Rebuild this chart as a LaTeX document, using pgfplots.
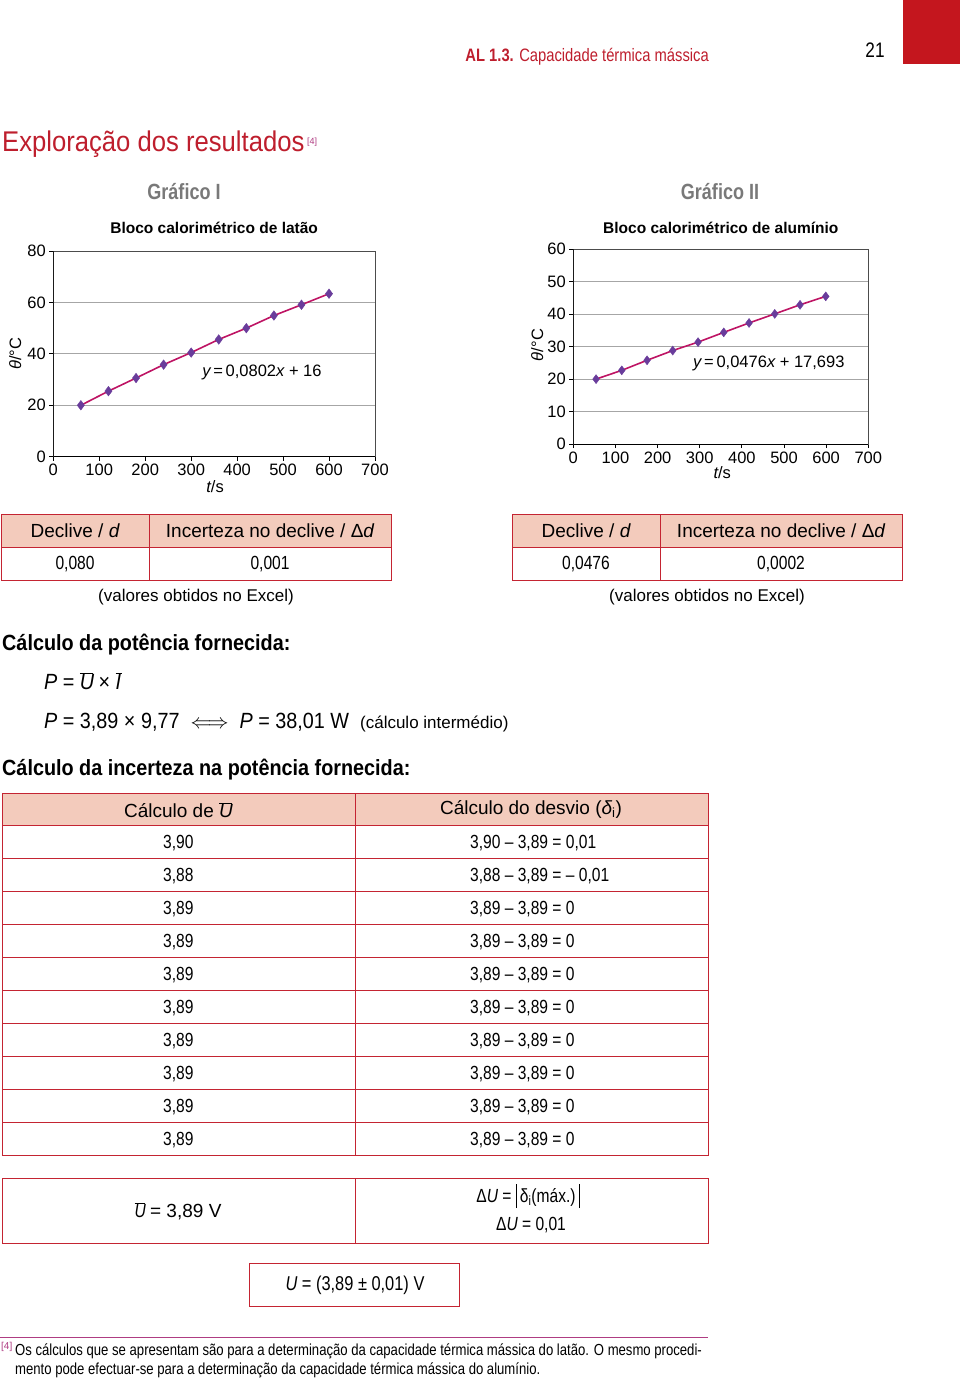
\documentclass[border=0pt]{standalone}
\usepackage{pgfplots}
\pgfplotsset{compat=1.18}
\usepackage{fontspec}
\setmainfont{Liberation Sans}
\newfontfamily\cond[FakeStretch=0.82]{Liberation Sans}
\newfontfamily\condw[FakeStretch=0.9]{Liberation Sans}
\newcommand{\fs}[1]{\fontsize{#1}{#1}\selectfont}
\definecolor{pagered}{RGB}{196,22,30}
\definecolor{titlered}{RGB}{190,30,45}
\definecolor{tabred}{RGB}{196,36,50}
\definecolor{hdrfill}{RGB}{243,203,188}
\definecolor{linecol}{RGB}{190,20,100}
\definecolor{markcol}{RGB}{105,60,155}
\definecolor{footmag}{RGB}{175,60,130}
\newcommand{\ub}{\ensuremath{\overline{\hbox{\itshape U\kern-0.05em}}}}
\newcommand{\ib}{\ensuremath{\overline{\hbox{\itshape I\kern0.05em}}}}
\newcommand{\absbar}{\raisebox{-6pt}{\rule{0.9pt}{24pt}}}
\newcommand{\trow}[3]{%
  \node[anchor=west, font=\cond\fs{19}, inner sep=0] at (163,#1+2) {#2};
  \node[anchor=west, font=\cond\fs{19}, inner sep=0] at (470,#1+2) {#3};}
\begin{document}
\begin{tikzpicture}
\path[use as bounding box] (0pt,0pt) rectangle (960pt,-1381pt);
\fill[pagered] (903pt,0pt) rectangle (960pt,-64pt);

% ---------------- Graph I ----------------
\begin{axis}[
  at={(53.3pt,-456.7pt)}, anchor=south west,
  scale only axis, width=321.7pt, height=205.7pt,
  xmin=0, xmax=700, ymin=0, ymax=80,
  xtick={0,100,...,700}, ytick={0,20,...,80},
  ymajorgrids, grid style={gray!70, line width=0.9pt},
  axis line style={gray!60!black, line width=0.9pt},
  tick align=outside, major tick length=4pt,
  xtick pos=bottom, ytick pos=left,
  tick style={black, line width=0.8pt},
  tick label style={font=\fs{16.5}},
  /pgf/number format/assume math mode=true,
  xlabel={{\itshape t}/s}, ylabel={{\itshape θ}/°C},
  label style={font=\fs{16.5}},
  xlabel style={at={(axis description cs:0.503,-0.146)}, anchor=center},
  ylabel style={at={(axis description cs:-0.118,0.5)}, anchor=center},
  title={Bloco calorimétrico de latão},
  title style={font=\bfseries\fs{15.5}, at={(axis description cs:0.5,1)}, anchor=center, yshift=17pt},
]
\addplot[line width=1.6pt, color=linecol, mark=diamond*, mark size=4.8pt,
  mark options={draw=markcol, fill=markcol, line width=0.4pt}] coordinates {
  (60,20.0) (120,25.5) (180,30.6) (240,35.8) (300,40.5)
  (360,45.6) (420,50.0) (480,54.9) (540,59.1) (600,63.4)};
\draw[black, line width=1pt] (rel axis cs:0,1) -- (rel axis cs:0,0) -- (rel axis cs:1,0);
\node[font=\fs{16.5}] at (axis cs:454,32.6) {{\itshape y}\,=\,0,0802{\itshape x} + 16};
\end{axis}

% ---------------- Graph II ----------------
\begin{axis}[
  at={(573.3pt,-444pt)}, anchor=south west,
  scale only axis, width=295pt, height=194.7pt,
  xmin=0, xmax=700, ymin=0, ymax=60,
  xtick={0,100,...,700}, ytick={0,10,...,60},
  ymajorgrids, grid style={gray!70, line width=0.9pt},
  axis line style={gray!60!black, line width=0.9pt},
  tick align=outside, major tick length=4pt,
  xtick pos=bottom, ytick pos=left,
  tick style={black, line width=0.8pt},
  tick label style={font=\fs{16.5}},
  /pgf/number format/assume math mode=true,
  xlabel={{\itshape t}/s}, ylabel={{\itshape θ}/°C},
  label style={font=\fs{16.5}},
  xlabel style={at={(axis description cs:0.505,-0.149)}, anchor=center},
  ylabel style={at={(axis description cs:-0.122,0.508)}, anchor=center},
  title={Bloco calorimétrico de alumínio},
  title style={font=\bfseries\fs{15.5}, at={(axis description cs:0.5,1)}, anchor=center, yshift=15pt},
]
\addplot[line width=1.6pt, color=linecol, mark=diamond*, mark size=4.5pt,
  mark options={draw=markcol, fill=markcol, line width=0.4pt}] coordinates {
  (54,20.0) (115,22.7) (175,25.8) (236,28.8) (296,31.4)
  (357,34.4) (417,37.3) (478,40.1) (538,42.9) (599,45.5)};
\draw[black, line width=1pt] (rel axis cs:0,1) -- (rel axis cs:0,0) -- (rel axis cs:1,0);
\node[font=\fs{16.5}] at (axis cs:464,24.8) {{\itshape y}\,=\,0,0476{\itshape x} + 17,693};
\end{axis}

\begin{scope}[x=1pt, y=-1pt]
% header
\node[anchor=east, text=titlered, font=\cond\fs{18}, inner sep=0] at (709,57) {{\bfseries AL 1.3.} Capacidade térmica mássica};
\node[font=\cond\fs{21}, inner sep=0] at (875,50) {21};
\node[anchor=west, text=titlered, font=\condw\fs{28.5}, inner sep=0] at (2,144) {Exploração dos resultados};
\node[anchor=west, text=footmag, font=\fs{9}, inner sep=0] at (307,142) {[4]};
\node[font=\cond\bfseries\fs{22}, text=gray!95!black, inner sep=0] at (184,192) {Gráfico I};
\node[font=\cond\bfseries\fs{22}, text=gray!95!black, inner sep=0] at (720,192) {Gráfico II};

% small tables
\fill[hdrfill] (1,514) rectangle (391,547);
\fill[hdrfill] (512,514) rectangle (902,547);
\begin{scope}[draw=tabred, line width=1pt]
\draw (1,514) rectangle (391,580); \draw (1,547) -- (391,547); \draw (149,514) -- (149,580);
\draw (512,514) rectangle (902,580); \draw (512,547) -- (902,547); \draw (660,514) -- (660,580);
\end{scope}
\begin{scope}[every node/.style={inner sep=0}]
\node[font=\fs{19}] at (75,531) {Declive / {\itshape d}};
\node[font=\fs{19}] at (270,531) {Incerteza no declive / Δ{\itshape d}};
\node[font=\cond\fs{19}] at (75,564) {0,080};
\node[font=\cond\fs{19}] at (270,564) {0,001};
\node[font=\fs{17}] at (196,597) {(valores obtidos no Excel)};
\node[font=\fs{19}] at (586,531) {Declive / {\itshape d}};
\node[font=\fs{19}] at (781,531) {Incerteza no declive / Δ{\itshape d}};
\node[font=\cond\fs{19}] at (586,564) {0,0476};
\node[font=\cond\fs{19}] at (781,564) {0,0002};
\node[font=\fs{17}] at (707,597) {(valores obtidos no Excel)};

% power
\node[anchor=west, font=\condw\bfseries\fs{22}] at (2,645) {Cálculo da potência fornecida:};
\node[anchor=west, font=\condw\fs{22}] at (44,681) {{\itshape P} = \ub\ × \ib};
\node[anchor=west, font=\condw\fs{22}] at (44,723) {{\itshape P} = 3,89 × 9,77\ \ $\Longleftrightarrow$\ \ {\itshape P} = 38,01 W\ \ {\rmfamily\fs{17}(cálculo intermédio)}};
\node[anchor=west, font=\condw\bfseries\fs{22}] at (2,770) {Cálculo da incerteza na potência fornecida:};
\end{scope}

% big table
\fill[hdrfill] (2,793) rectangle (708,825);
\begin{scope}[draw=tabred, line width=1pt]
\draw (2,793) rectangle (708,1155);
\foreach \yy in {825,858,891,924,957,990,1023,1056,1089,1122} {\draw (2,\yy) -- (708,\yy);}
\draw (355,793) -- (355,1155);
\draw (2,1178) rectangle (708,1243); \draw (355,1178) -- (355,1243);
\draw (249,1263) rectangle (459,1306);
\end{scope}
\node[font=\fs{19}, inner sep=0] at (178,810) {Cálculo de \ub};
\node[font=\fs{19}, inner sep=0] at (531,809) {Cálculo do desvio ({\itshape δ}\textsubscript{i})};
\trow{841}{3,90}{3,90 – 3,89 = 0,01}
\trow{874}{3,88}{3,88 – 3,89 = – 0,01}
\trow{907}{3,89}{3,89 – 3,89 = 0}
\trow{940}{3,89}{3,89 – 3,89 = 0}
\trow{973}{3,89}{3,89 – 3,89 = 0}
\trow{1006}{3,89}{3,89 – 3,89 = 0}
\trow{1039}{3,89}{3,89 – 3,89 = 0}
\trow{1072}{3,89}{3,89 – 3,89 = 0}
\trow{1105}{3,89}{3,89 – 3,89 = 0}
\trow{1138}{3,89}{3,89 – 3,89 = 0}
\node[font=\fs{19}, inner sep=0] at (178,1211) {{\cond\ub} = 3,89 V};
\node[font=\cond\fs{19}, inner sep=0] at (528,1196) {Δ{\itshape U} = \absbar\,δ\textsubscript{i}(máx.)\,\absbar};
\node[font=\cond\fs{19}, inner sep=0] at (531,1225) {Δ{\itshape U} = 0,01};
\node[font=\cond\fs{20}, inner sep=0] at (355,1285) {{\itshape U} = (3,89 ± 0,01) V};

% footnote
\draw[footmag, line width=0.9pt] (0,1337) -- (708,1337);
\node[anchor=west, text=footmag, font=\fs{10}, inner sep=0] at (1,1347) {[4]};
\node[anchor=west, font=\cond\fs{16}, inner sep=0] at (15,1351) {Os cálculos que se apresentam são para a determinação da capacidade térmica mássica do latão. O mesmo procedi-};
\node[anchor=west, font=\cond\fs{16}, inner sep=0] at (15,1370) {mento pode efectuar-se para a determinação da capacidade térmica mássica do alumínio.};
\end{scope}
\end{tikzpicture}
\end{document}
